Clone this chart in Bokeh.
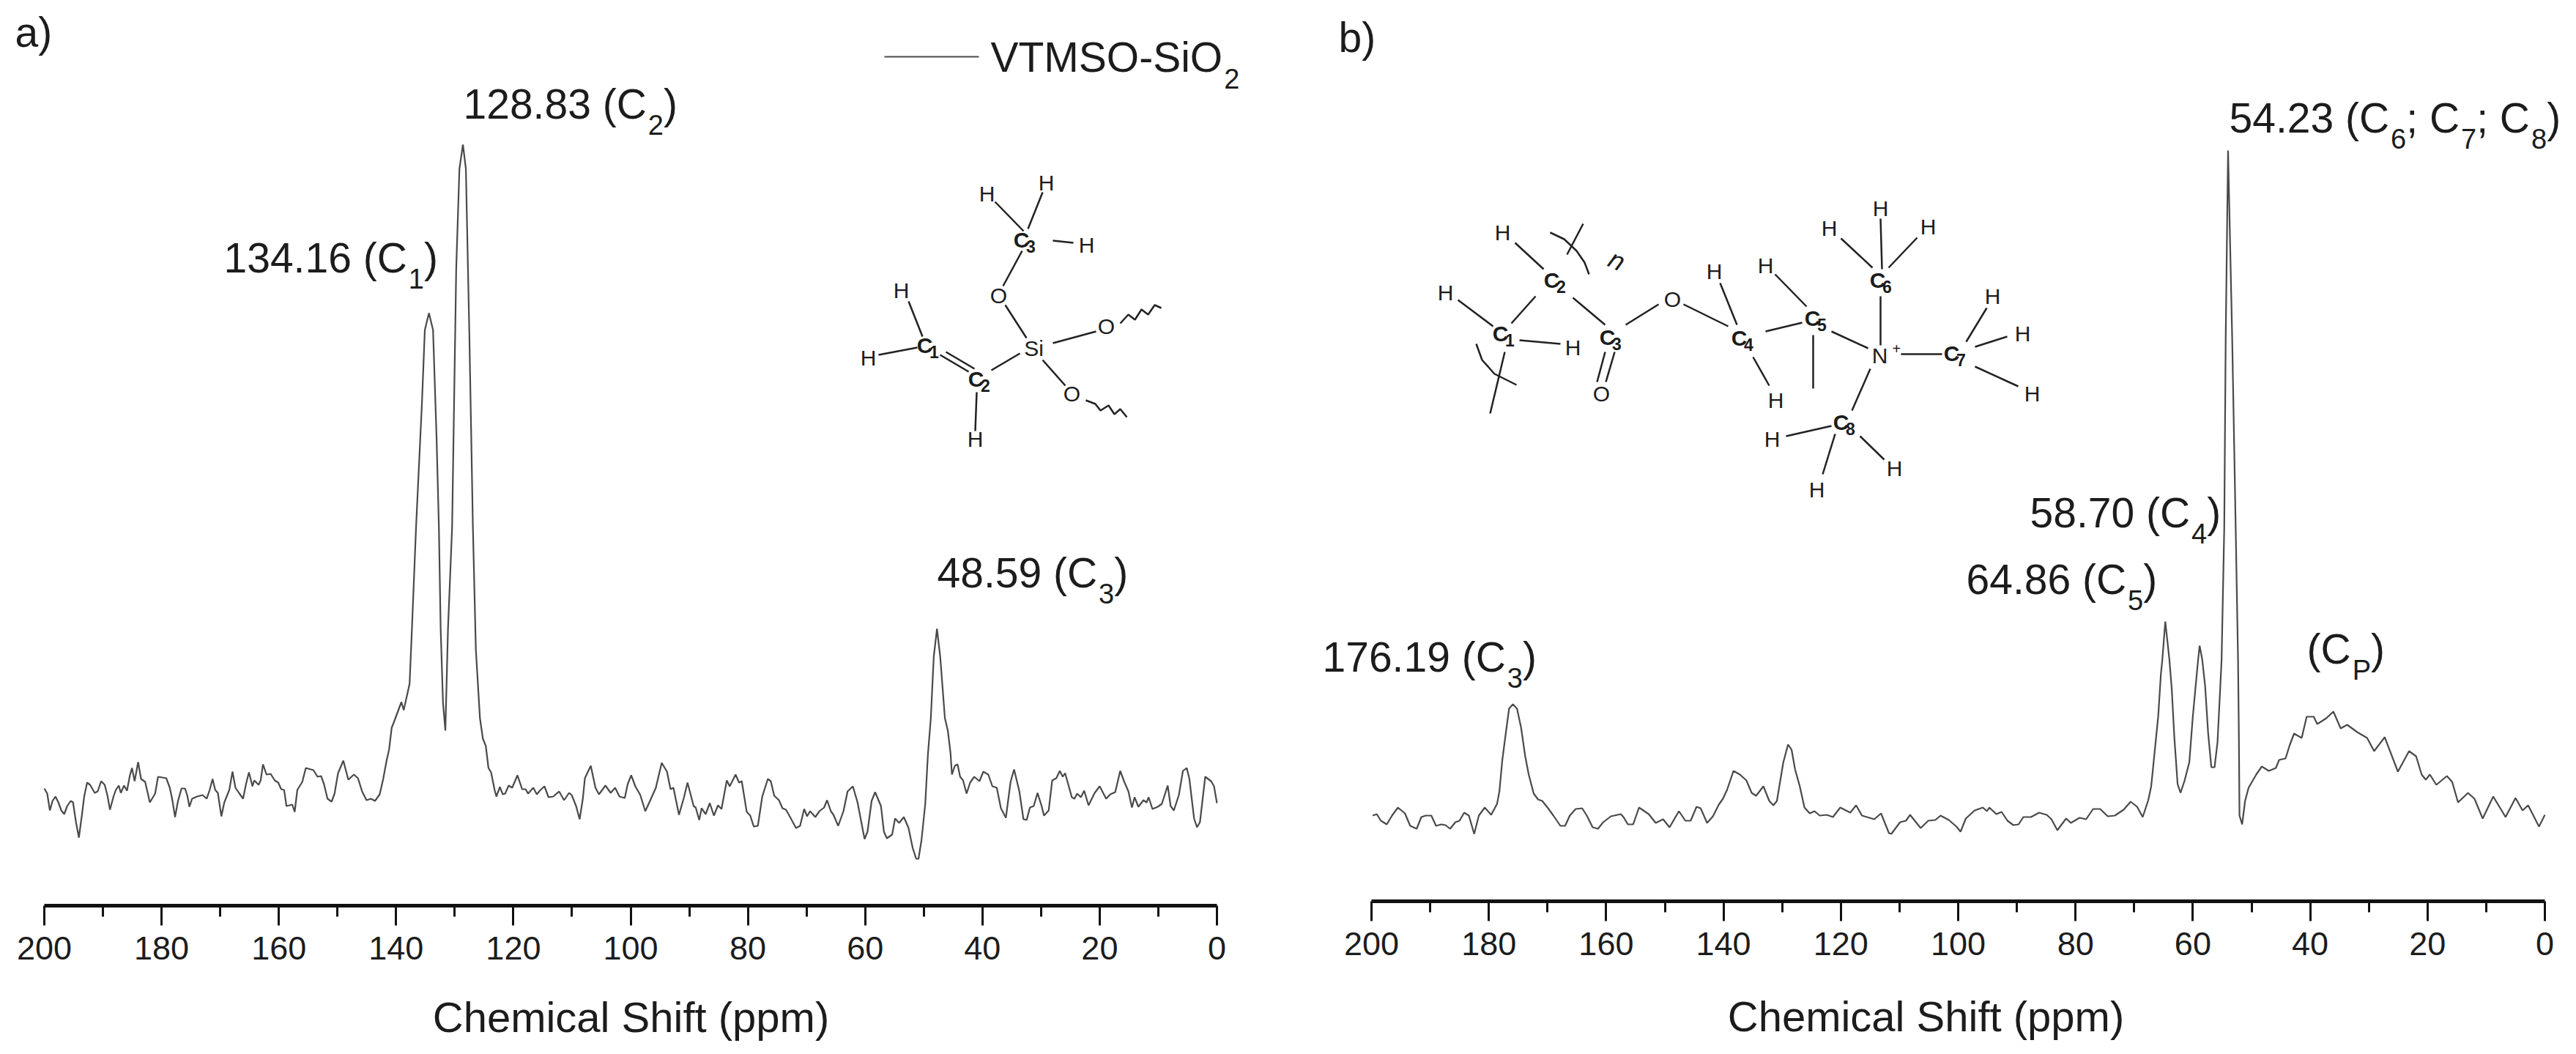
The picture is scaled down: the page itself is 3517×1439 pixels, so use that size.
from bokeh.plotting import figure
from bokeh.layouts import row
from bokeh.models import Range1d, FixedTicker, Label
from bokeh.embed import file_html
from bokeh.resources import INLINE

FONT = "Liberation Sans"
INK = "#1c1c1c"

ticks = [0, 20, 40, 60, 80, 100, 120, 140, 160, 180, 200]
minor = [10, 30, 50, 70, 90, 110, 130, 150, 170, 190]
axis_title = "Chemical Shift (ppm)"

# Spectrum a): (ppm, intensity in arbitrary units above the axis)
spectrum_a = [
 (200.0,160),(199.5,153),(199.05,130),(198.6,143),(198.1,149),(197.6,141),(197.1,130),(196.6,125),(196.1,136),(195.5,143),
 (195.1,141),(194.6,114),(194.1,93),(193.6,123),(193.2,149),(192.7,168),(192.2,165),(191.4,154),(190.9,156),(190.3,170),
 (189.7,165),(189.25,151),(188.8,131),(188.2,149),(187.8,158),(187.3,164),(186.95,154),(186.4,164),(185.9,157),(185.4,178),
 (185.05,188),(184.6,170),(184.0,196),(183.5,173),(182.8,169),(182.0,141),(181.1,153),(180.6,176),(179.2,174),(178.6,161),
 (178.2,146),(177.7,121),(177.2,143),(176.6,160),(176.0,160),(175.6,150),(175.25,135),(174.8,146),(173.95,149),(173.0,151),
 (172.3,146),(171.8,158),(171.3,173),(170.85,158),(170.4,154),(169.8,122),(169.3,141),(168.45,158),(167.9,183),(167.4,161),
 (166.8,154),(166.1,146),(165.6,166),(165.1,182),(164.5,163),(164.2,171),(163.45,165),(163.1,171),(162.7,193),(162.1,179),
 (161.4,180),(160.7,171),(160.1,168),(159.6,159),(159.1,158),(158.7,136),(157.7,138),(157.3,128),(156.85,158),(156.0,169),
 (155.4,188),(154.1,185),(153.4,176),(152.8,177),(152.3,166),(151.7,146),(151.0,142),(150.5,153),(149.9,181),(149.0,198),
 (148.15,172),(147.2,179),(146.5,174),(145.8,156),(145.05,144),(144.3,146),(143.6,143),(142.8,152),(142.2,173),(141.6,199),
 (141.2,213),(140.75,243),(140.4,250),(139.1,278),(138.7,267),(137.7,303),(137.3,378),(136.6,516),(135.6,685),(135.1,786),
 (134.4,809),(133.7,786),(133.1,639),(132.7,516),(132.4,378),(132.0,277),(131.6,239),(131.15,378),(130.45,516),(129.75,869),
 (129.2,1006),(128.6,1039),(128.1,1006),(127.5,777),(126.9,516),(126.4,350),(125.7,256),(125.2,228),(124.7,218),(124.25,188),
 (123.8,182),(123.2,158),(122.9,149),(122.3,162),(121.8,152),(121.4,153),(120.8,164),(120.2,161),(119.3,178),(118.5,159),
 (117.9,159),(117.5,153),(116.6,161),(116.0,152),(115.5,157),(114.7,163),(114.0,148),(113.2,149),(112.2,156),(111.35,144),
 (110.5,154),(110.05,151),(109.3,136),(108.7,118),(108.15,146),(107.8,174),(106.8,191),(106.0,161),(105.4,152),(104.3,164),
 (103.4,154),(102.65,161),(101.9,149),(101.0,147),(100.5,166),(99.9,178),(99.2,163),(98.35,151),(97.5,129),(96.7,143),
 (95.7,161),(94.7,195),(93.8,183),(93.2,159),(92.7,161),(91.75,124),(90.9,148),(90.3,168),(89.25,136),(88.9,134),
 (88.3,117),(87.9,133),(87.2,125),(86.5,140),(85.8,123),(85.1,137),(84.5,132),(83.6,171),(83.1,163),(82.1,179),
 (81.5,168),(81.05,170),(80.2,128),(79.6,123),(79.0,108),(78.3,109),(77.55,149),(76.6,173),(76.1,170),(75.5,150),
 (74.7,144),(74.1,133),(73.5,131),(72.8,121),(71.8,106),(71.1,109),(70.4,132),(69.9,122),(69.4,129),(68.5,121),
 (67.8,129),(67.0,134),(66.5,144),(65.85,129),(65.4,124),(64.6,109),(63.7,129),(63.0,156),(62.1,163),(61.3,141),
 (60.1,91),(59.6,101),(58.9,143),(58.3,155),(57.3,136),(56.8,101),(56.3,92),(55.4,97),(54.9,119),(54.2,113),
 (53.4,121),(52.6,106),(51.9,79),(51.3,64),(50.9,64),(50.4,89),(49.75,139),(49.3,206),(48.8,256),(48.3,340),
 (47.75,378),(47.2,340),(46.4,256),(45.9,239),(45.45,209),(45.2,179),(44.7,191),(44.25,193),(43.8,176),(43.3,171),
 (42.7,153),(42.1,168),(41.4,176),(40.5,170),(39.85,183),(39.0,179),(38.3,163),(37.55,161),(36.85,133),(36.0,120),
 (35.2,169),(34.6,186),(33.7,156),(33.0,118),(32.45,117),(31.9,134),(31.25,136),(30.6,154),(29.9,136),(29.5,123),
 (28.7,130),(28.1,171),(27.4,174),(26.8,184),(26.3,176),(25.9,181),(24.75,148),(24.3,146),(23.85,153),(23.2,148),
 (22.65,157),(21.9,137),(20.85,154),(20.0,163),(18.9,146),(18.2,152),(17.35,155),(16.5,184),(15.8,169),(15.1,156),
 (14.5,134),(14.05,148),(13.4,135),(12.55,144),(12.0,141),(11.65,148),(11.0,132),(10.1,135),(9.4,139),(8.4,164),
 (7.9,136),(7.35,130),(6.5,151),(5.8,184),(5.15,188),(4.7,173),(3.9,119),(3.4,107),(2.9,114),(2.0,176),
 (1.0,170),(0.5,163),(0.0,140),
]

# Spectrum b)
spectrum_b = [
 (199.8,117),(199.1,119),(198.4,110),(197.4,105),(196.5,117),(195.5,128),(194.3,120),(193.4,103),(192.3,99),(191.5,115),
 (190.75,117),(189.8,117),(189.0,103),(188.1,105),(187.4,104),(186.6,99),(185.7,108),(185.0,110),(184.2,121),(183.4,117),
 (182.5,92),(181.7,117),(180.7,128),(179.6,118),(178.6,133),(178.2,150),(177.7,193),(177.1,230),(176.55,263),(175.9,269),
 (175.2,263),(174.5,237),(173.8,198),(173.2,173),(172.35,147),(171.6,139),(170.9,137),(169.9,127),(169.0,117),(167.8,103),
 (167.0,103),(166.2,117),(165.2,126),(164.1,127),(163.3,117),(162.3,101),(161.4,99),(160.5,108),(159.2,116),(157.5,119),
 (157.05,115),(156.3,105),(155.4,105),(154.4,128),(152.75,119),(151.55,107),(150.3,112),(149.2,101),(147.6,123),(146.5,110),
 (145.6,110),(144.6,129),(143.9,127),(142.8,107),(141.8,116),(140.8,132),(140.1,140),(139.4,152),(138.3,178),(137.2,173),
 (136.1,165),(135.2,148),(134.45,144),(133.2,157),(132.2,137),(131.5,131),(130.9,137),(129.8,190),(129.0,214),(128.4,207),
 (127.8,180),(127.0,157),(126.2,128),(125.3,120),(124.5,123),(123.6,117),(122.4,118),(121.35,115),(120.1,128),(118.4,121),
 (117.4,131),(116.4,117),(114.3,112),(113.15,120),(111.8,93),(111.4,92),(109.9,108),(108.9,110),(108.2,118),(106.4,100),
 (105.1,110),(103.9,111),(103.0,117),(101.6,111),(100.3,102),(99.6,95),(98.7,113),(97.2,124),(95.8,128),(95.1,123),
 (94.7,128),(93.5,119),(92.6,122),(91.6,110),(90.6,104),(89.7,105),(88.9,115),(87.6,115),(86.2,121),(84.9,118),
 (84.1,112),(83.1,97),(81.6,113),(80.8,107),(79.3,114),(78.2,112),(77.0,126),(75.8,126),(74.5,116),(73.3,117),
 (71.8,125),(70.6,136),(69.5,129),(68.55,115),(67.6,138),(67.1,157),(66.6,197),(65.9,253),(65.45,310),(65.2,330),
 (64.7,382),(64.0,330),(63.6,290),(63.15,223),(62.6,160),(62.1,148),(61.4,165),(60.6,190),(60.0,253),(59.3,313),
 (59.1,330),(58.85,349),(58.4,330),(57.9,293),(57.4,230),(56.85,183),(56.3,183),(55.8,217),(55.3,297),(55.1,330),
 (54.65,510),(54.4,770),(54.0,1025),(53.3,770),(52.7,510),(52.3,330),(52.16,230),(52.05,117),(51.6,105),(51.1,137),
 (50.5,155),(49.2,173),(48.25,184),(47.05,178),(45.85,182),(45.3,193),(44.2,195),(43.5,213),(42.75,229),(41.45,223),
 (40.6,252),(39.4,252),(38.8,242),(38.2,245),(37.25,250),(36.05,259),(34.8,236),(33.7,241),(32.0,231),(30.3,223),
 (29.1,205),(27.3,224),(25.05,177),(23.15,205),(21.95,198),(21.0,173),(20.3,166),(19.6,173),(18.5,159),(16.7,171),
 (15.8,163),(14.8,135),(13.1,148),(12.0,140),(10.6,113),(8.8,143),(6.7,115),(5.0,141),(3.8,124),(2.85,131),
 (1.0,102),(0.0,118),
]

# Peak annotations: (text parts, left X, baseline Y in the image)
peaks_a = [
 ([("128.83 (C",0),("2",1),(")",0)], 632, 160),
 ([("134.16 (C",0),("1",1),(")",0)], 305, 370),
 ([("48.59 (C",0),("3",1),(")",0)], 1279, 800),
]
peaks_b = [
 ([("54.23 (C",0),("6",1),("; C",0),("7",1),("; C",0),("8",1),(")",0)], 3043, 179),
 ([("58.70 (C",0),("4",1),(")",0)], 2771, 718),
 ([("64.86 (C",0),("5",1),(")",0)], 2684, 809),
 ([("176.19 (C",0),("3",1),(")",0)], 1805, 915),
 ([("(C",0),("P",1),(")",0)], 3149, 904),
]

# Structure drawings: (text, subscript, X, Y), bonds as (X0, Y0, X1, Y1)
atoms_a = [("H","",1347,264),("H","",1428,249),("C","3",1400,327),("H","",1483,334),("O","",1363,403),
           ("H","",1230,396),("C","1",1268,471),("H","",1185,488),("Si","",1411,475),("O","",1510,445),
           ("C","2",1338,517),("O","",1463,537),("H","",1331,599)]
bonds_a = [(1358,275,1397,315),(1423,262,1403,312),(1437,328,1465,331),(1395,342,1369,390),(1372,416,1401,461),
           (1437,468,1496,452),(1423,491,1454,526),(1392,482,1353,505),(1240,411,1259,459),(1199,484,1252,474),
           (1291,480,1330,503),(1283,484,1322,507),(1333,535,1331,588)]
waves_a = [[(1529,441),(1540,429),(1549,436),(1558,422),(1567,429),(1576,416),(1585,420)],
           [(1482,546),(1495,551),(1502,560),(1513,553),(1521,565),(1529,558),(1538,569)]]
atoms_b = [("H","",2051,317),("H","",1973,399),("C","1",2054,455),("H","",2147,474),("C","2",2124,382),
           ("C","3",2200,460),("O","",2186,537),("O","",2283,408),("C","4",2380,461),("H","",2340,370),
           ("H","",2424,546),("C","5",2480,434),("H","",2410,362),("N","",2566,485),("C","6",2569,382),
           ("H","",2567,284),("H","",2497,311),("H","",2632,309),("C","7",2670,482),("H","",2720,404),
           ("H","",2761,455),("H","",2774,537),("C","8",2519,576),("H","",2419,599),("H","",2586,639),("H","",2480,668)]
bonds_b = [(2068,331,2107,367),(1990,409,2038,445),(2096,404,2063,441),(2074,464,2130,469),(2147,406,2191,443),
           (2298,415,2359,445),(2219,443,2264,415),(2191,480,2180,521),(2204,480,2192,521),(2348,386,2371,443),
           (2393,487,2415,526),(2410,452,2460,440),(2423,374,2466,418),(2500,452,2550,475),(2475,457,2475,530),
           (2567,298,2569,367),(2513,325,2556,365),(2617,324,2578,365),(2567,404,2567,471),(2595,483,2651,483),
           (2553,503,2528,560),(2696,473,2740,459),(2684,466,2712,420),(2696,500,2755,527),(2438,595,2500,581),
           (2539,595,2572,627),(2505,592,2488,647),(2161,305,2139,347),(2054,480,2034,564)]
waves_b = [[(2116,317),(2135,326),(2152,342),(2163,358),(2169,374)],
           [(2015,469),(2023,491),(2040,510),(2070,525)]]

ARIAL = {"(":.333,")":.333,".":.278," ":.278,";":.278,"C":.722,"P":.667,"V":.667,"T":.611,"M":.833,"S":.667,
         "O":.778,"-":.333,"i":.222,"a":.556,"b":.556}
def text_width(s, size):
    return sum(ARIAL.get(c, .556) for c in s) * size

HEIGHT = 1423

class Panel:
    def __init__(self, page_x, width, frame_left, frame_right, axis_y):
        self.frame_left, self.frame_right, self.axis_y = frame_left, frame_right, axis_y
        self.fig = figure(width=width, height=HEIGHT, output_backend="svg", toolbar_location=None,
                          x_range=Range1d(self.dx(page_x), self.dx(page_x + width)),
                          y_range=Range1d(self.dy(HEIGHT), self.dy(0)),
                          y_axis_location=None, x_axis_location="below",
                          min_border_left=0, min_border_right=0, min_border_top=0,
                          min_border_bottom=0, outline_line_color=None,
                          background_fill_color="white", border_fill_color="white")
        p = self.fig
        p.grid.visible = False
        ax = p.xaxis[0]
        ax.fixed_location = 0
        ax.bounds = (0, 200)
        ax.ticker = FixedTicker(ticks=ticks, minor_ticks=minor)
        ax.axis_line_width = 5
        ax.axis_line_color = "#111111"
        ax.major_tick_line_width = 3
        ax.minor_tick_line_width = 3
        ax.major_tick_line_color = "#111111"
        ax.minor_tick_line_color = "#111111"
        ax.major_tick_in = 0
        ax.major_tick_out = 27
        ax.minor_tick_in = 0
        ax.minor_tick_out = 15
        ax.major_label_text_font = FONT
        ax.major_label_text_font_size = "45px"
        ax.major_label_text_color = INK
        ax.major_label_standoff = 15

    def dx(self, X):
        return 200 * (self.frame_right - X) / (self.frame_right - self.frame_left)

    def dy(self, Y):
        return self.axis_y - Y

    def text(self, s, X, Y, size, style="normal", align="left", baseline="alphabetic", angle=0):
        # Label draws an "alphabetic" line about a third of the font size below the asked height
        if baseline == "alphabetic":
            Y = Y - 0.33 * size
        self.fig.add_layout(Label(x=self.dx(X), y=self.dy(Y), text=s, text_font=FONT,
                                  text_font_size=f"{size}px", text_font_style=style, text_color=INK,
                                  text_align=align, text_baseline=baseline, angle=angle, angle_units="deg"))

    def rich(self, parts, X, Y, size=57, sub=38, drop=23):
        for s, is_sub in parts:
            if is_sub:
                self.text(s, X + 2, Y + drop, sub)
                X += text_width(s, sub) + 2
            else:
                self.text(s, X, Y, size)
                X += text_width(s, size)

    def atoms(self, items):
        for s, subs, X, Y in items:
            if subs:
                self.text(s, X - 6, Y, 30, style="bold", align="center", baseline="middle")
                self.text(subs, X + 7, Y + 9, 23, style="bold", align="center", baseline="middle")
            else:
                self.text(s, X, Y, 30, align="center", baseline="middle")

    def bonds(self, items, waves):
        xs = [[self.dx(b[0]), self.dx(b[2])] for b in items] + [[self.dx(q[0]) for q in w] for w in waves]
        ys = [[self.dy(b[1]), self.dy(b[3])] for b in items] + [[self.dy(q[1]) for q in w] for w in waves]
        self.fig.multi_line(xs, ys, line_color="#222222", line_width=2.5)

    def spectrum(self, pts):
        self.fig.line([q[0] for q in pts], [q[1] for q in pts], line_color="#4a4a4a", line_width=2.2)


a = Panel(0, 1754, 60, 1661, 1236)
b = Panel(1754, 1754, 1872, 3474, 1230)

a.spectrum(spectrum_a)
b.spectrum(spectrum_b)

a.text("a)", 20, 62, 57)
b.text("b)", 1827, 69, 57)
a.text(axis_title, 861, 1407, 58, align="center")
b.text(axis_title, 2629, 1406, 58, align="center")

# legend
a.fig.line([a.dx(1207), a.dx(1336)], [a.dy(77), a.dy(77)], line_color="#4a4a4a", line_width=2.2)
a.rich([("VTMSO-SiO", 0), ("2", 1)], 1352, 96, drop=24)

for parts, X, Y in peaks_a:
    a.rich(parts, X, Y)
for parts, X, Y in peaks_b:
    b.rich(parts, X, Y)

a.bonds(bonds_a, waves_a)
a.atoms(atoms_a)
b.bonds(bonds_b, waves_b)
b.atoms(atoms_b)
b.text("+", 2583, 482, 20)
b.text("n", 2207, 355, 36, style="italic", align="center", baseline="middle", angle=-25)

open("out.html", "w").write(file_html(row(a.fig, b.fig), INLINE))
